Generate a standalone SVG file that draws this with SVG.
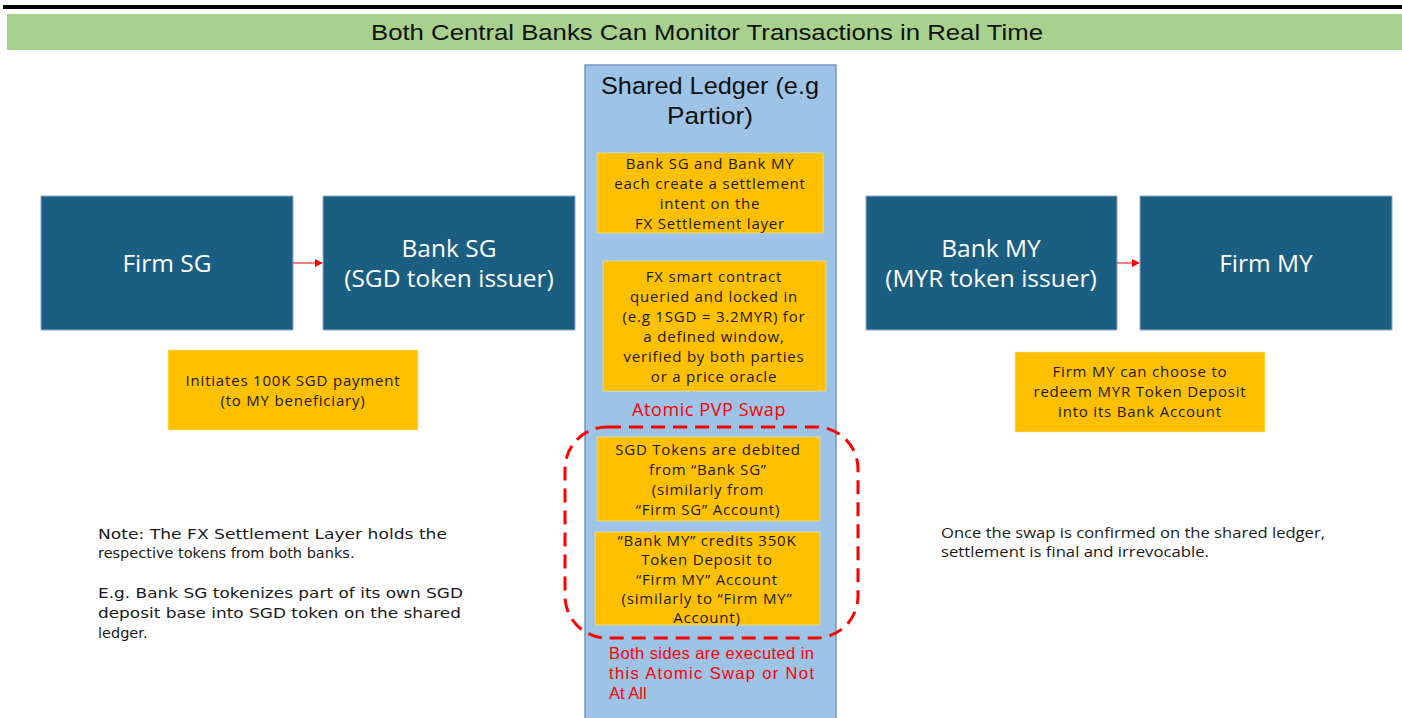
<svg xmlns="http://www.w3.org/2000/svg" width="1402" height="718" viewBox="0 0 1402 718">
<style>
.dark{fill:#1A5E82;stroke:#8FAACC;stroke-width:1}
.org{fill:#FFC000;stroke:#FFE699;stroke-width:0.6}
.wt{fill:#FFFFFF;font-family:"Open Sans","Noto Sans",sans-serif;font-size:24.5px;text-anchor:middle}
.ot{fill:#1a1a1a;font-family:"Open Sans","Noto Sans",sans-serif;font-size:15px;letter-spacing:0.8px;text-anchor:middle}
.rt{fill:#FF0000;font-family:"Liberation Sans",sans-serif;font-size:16.5px}
.nt{fill:#1a1a1a;font-family:"DejaVu Sans",sans-serif;font-size:14.5px}
.ct{fill:#1a1a1a;font-family:"Open Sans","Noto Sans",sans-serif;font-size:15px}
.lt{fill:#111;font-family:"Liberation Sans",sans-serif;font-size:24.5px;text-anchor:middle}
.conn{stroke:#FF0000;stroke-width:1;fill:none}
</style>
<defs>
<marker id="ah" viewBox="0 0 10 10" refX="9" refY="5" markerWidth="8" markerHeight="8" orient="auto" markerUnits="userSpaceOnUse">
<path d="M0,0 L10,5 L0,10 z" fill="#FF0000"/>
</marker>
</defs>
<rect x="0" y="0" width="1402" height="718" fill="#FFFFFF"/>
<rect x="3" y="5" width="1399" height="4" fill="#000000"/>
<g id="title">
<rect x="7" y="14" width="1395" height="36" fill="#A9D18E"/>
<text x="707" y="40" font-family="'Liberation Sans',sans-serif" font-size="22" fill="#111" text-anchor="middle" textLength="672" lengthAdjust="spacingAndGlyphs">Both Central Banks Can Monitor Transactions in Real Time</text>
</g>
<g id="shared-ledger">
<rect x="585" y="65" width="251" height="660" fill="#9DC3E6" stroke="#7396BF" stroke-width="1.5"/>
<text class="lt" x="710" y="94" textLength="218" lengthAdjust="spacingAndGlyphs">Shared Ledger (e.g</text>
<text class="lt" x="710" y="124" textLength="86" lengthAdjust="spacingAndGlyphs">Partior)</text>
</g>
<g id="intent">
<rect class="org" x="597" y="153" width="226" height="80"/>
<text class="ot" x="710" y="169">Bank SG and Bank MY</text>
<text class="ot" x="710" y="189">each create a settlement</text>
<text class="ot" x="710" y="209">intent on the</text>
<text class="ot" x="710" y="229">FX Settlement layer</text>
</g>
<g id="fx-contract">
<rect class="org" x="603" y="261" width="223" height="130"/>
<text class="ot" x="714" y="282">FX smart contract</text>
<text class="ot" x="714" y="302">queried and locked in</text>
<text class="ot" x="714" y="322">(e.g 1SGD = 3.2MYR) for</text>
<text class="ot" x="714" y="342">a defined window,</text>
<text class="ot" x="714" y="362">verified by both parties</text>
<text class="ot" x="714" y="382">or a price oracle</text>
</g>
<text id="pvp-label" x="709" y="416" font-family="'Open Sans','Noto Sans',sans-serif" font-size="18" letter-spacing="0.6" fill="#FF0000" text-anchor="middle">Atomic PVP Swap</text>
<g id="atomic-swap">
<rect x="565" y="427" width="293" height="211" rx="42" ry="42" fill="none" stroke="#FF0000" stroke-width="3" stroke-dasharray="14 8"/>
</g>
<g id="debit">
<rect class="org" x="597" y="437" width="223" height="84"/>
<text class="ot" x="708" y="455">SGD Tokens are debited</text>
<text class="ot" x="708" y="475">from “Bank SG”</text>
<text class="ot" x="708" y="495">(similarly from</text>
<text class="ot" x="708" y="515">“Firm SG” Account)</text>
</g>
<g id="credit">
<rect class="org" x="595" y="532" width="225" height="93"/>
<text class="ot" x="707" y="546">“Bank MY” credits 350K</text>
<text class="ot" x="707" y="565">Token Deposit to</text>
<text class="ot" x="707" y="585">“Firm MY” Account</text>
<text class="ot" x="707" y="604">(similarly to “Firm MY”</text>
<text class="ot" x="707" y="623">Account)</text>
</g>
<g id="atomic-note">
<text class="rt" x="609" y="659" textLength="205" lengthAdjust="spacing">Both sides are executed in</text>
<text class="rt" x="609" y="679" textLength="205" lengthAdjust="spacing">this Atomic Swap or Not</text>
<text class="rt" x="609" y="699">At All</text>
</g>
<g id="firm-sg">
<rect class="dark" x="41" y="196" width="252" height="134"/>
<text class="wt" x="167" y="272">Firm SG</text>
</g>
<g id="bank-sg">
<rect class="dark" x="323" y="196" width="252" height="134"/>
<text class="wt" x="449" y="257">Bank SG</text>
<text class="wt" x="449" y="287">(SGD token issuer)</text>
</g>
<g id="bank-my">
<rect class="dark" x="866" y="196" width="251" height="134"/>
<text class="wt" x="991" y="257">Bank MY</text>
<text class="wt" x="991" y="287">(MYR token issuer)</text>
</g>
<g id="firm-my">
<rect class="dark" x="1140" y="196" width="252" height="134"/>
<text class="wt" x="1266" y="272">Firm MY</text>
</g>
<g id="connectors">
<line class="conn" x1="293" y1="263" x2="322" y2="263" marker-end="url(#ah)"/>
<line class="conn" x1="1117" y1="263" x2="1139" y2="263" marker-end="url(#ah)"/>
</g>
<g id="initiates">
<rect class="org" x="168" y="350" width="250" height="80"/>
<text class="ot" x="293" y="386">Initiates 100K SGD payment</text>
<text class="ot" x="293" y="406">(to MY beneficiary)</text>
</g>
<g id="redeem">
<rect class="org" x="1015" y="352" width="250" height="80"/>
<text class="ot" x="1140" y="377">Firm MY can choose to</text>
<text class="ot" x="1140" y="397">redeem MYR Token Deposit</text>
<text class="ot" x="1140" y="417">into its Bank Account</text>
</g>
<g id="note-left">
<text class="nt" x="98" y="539" textLength="349" lengthAdjust="spacingAndGlyphs">Note: The FX Settlement Layer holds the</text>
<text class="nt" x="98" y="558">respective tokens from both banks.</text>
<text class="nt" x="98" y="598" textLength="365" lengthAdjust="spacingAndGlyphs">E.g. Bank SG tokenizes part of its own SGD</text>
<text class="nt" x="98" y="618" textLength="363" lengthAdjust="spacingAndGlyphs">deposit base into SGD token on the shared</text>
<text class="nt" x="98" y="638">ledger.</text>
</g>
<g id="note-right">
<text class="ct" x="941" y="538" textLength="384" lengthAdjust="spacingAndGlyphs">Once the swap is confirmed on the shared ledger,</text>
<text class="ct" x="941" y="557" textLength="268" lengthAdjust="spacingAndGlyphs">settlement is final and irrevocable.</text>
</g>
</svg>
